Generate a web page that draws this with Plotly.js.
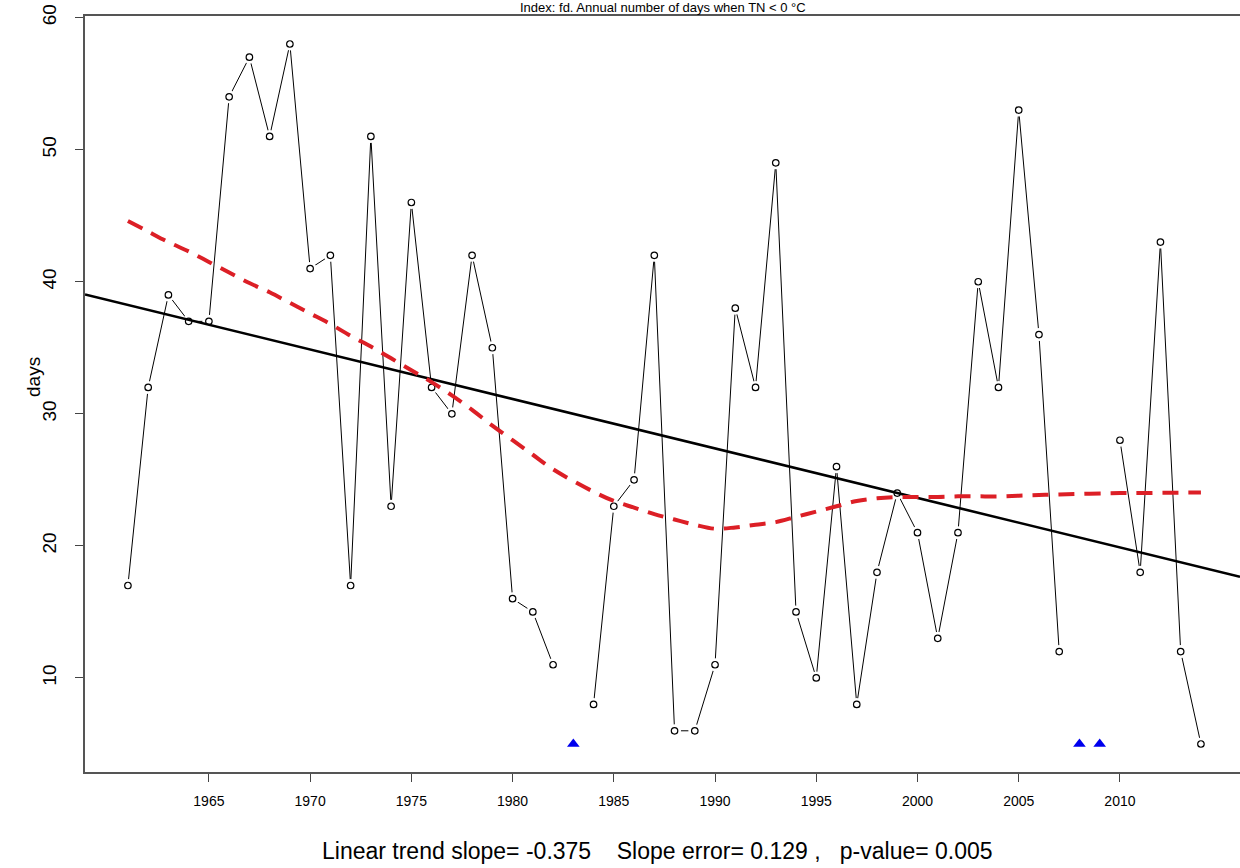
<!DOCTYPE html>
<html>
<head>
<meta charset="utf-8">
<script src="https://cdn.plot.ly/plotly-3.0.1.min.js"></script>
<style>html,body{margin:0;padding:0;background:#fff;}#chart{width:1240px;height:868px;}</style>
</head>
<body>
<div id="chart"></div>
<script>
// Annual number of frost days (TN < 0 °C); null = missing year
const years = [1961,1962,1963,1964,1965,1966,1967,1968,1969,1970,
               1971,1972,1973,1974,1975,1976,1977,1978,1979,1980,
               1981,1982,1983,1984,1985,1986,1987,1988,1989,1990,
               1991,1992,1993,1994,1995,1996,1997,1998,1999,2000,
               2001,2002,2003,2004,2005,2006,2007,2008,2009,2010,
               2011,2012,2013,2014];
const fdDays = [17,32,39,37,37,54,57,51,58,41,
                42,17,51,23,46,32,30,42,35,16,
                15,11,null,8,23,25,42,6,6,11,
                38,32,49,15,10,26,8,18,24,21,
                13,21,40,32,53,36,12,null,null,28,
                18,43,12,5];
// Smoothed (lowess) curve
const smoothYears = [1961,1962,1963,1964,1965,1966,1967,1968,1969,1970,
                     1971,1972,1973,1974,1975,1976,1977,1978,1979,1980,
                     1981,1982,1984,1985,1986,1987,1988,1989,1990,
                     1991,1992,1993,1994,1995,1996,1997,1998,1999,2000,
                     2001,2002,2003,2004,2005,2006,2007,2010,
                     2011,2012,2013,2014];
const smoothDays = [44.6,43.8,43.0,42.3,41.5,40.7,39.9,39.2,38.4,37.6,
                    36.8,35.9,35.1,34.2,33.3,32.4,31.4,30.3,29.1,28.0,
                    26.9,25.8,24.1,23.4,22.9,22.4,22.0,21.6,21.3,
                    21.4,21.6,21.8,22.2,22.6,23.0,23.4,23.6,23.7,23.7,
                    23.7,23.75,23.75,23.75,23.8,23.85,23.9,24.0,
                    24.0,24.02,24.03,24.04];
const xTicks = [1965,1970,1975,1980,1985,1990,1995,2000,2005,2010];
const yTicks = [10,20,30,40,50,60];
const titleText = "Index: fd. Annual number of days when TN < 0 °C";
const yTitle = "days";
const statsText = "Linear trend slope= -0.375    Slope error= 0.129 ,   p-value= 0.005";

const xRange = [1958.88, 2015.93];
const yRange = [2.88, 60.12];

// valid points
const vx = [], vy = [], missX = [];
years.forEach((yr, i) => { if (fdDays[i] === null) missX.push(yr); else { vx.push(yr); vy.push(fdDays[i]); } });
// least squares trend
const n = vx.length;
const mx = vx.reduce((a, b) => a + b, 0) / n;
const my = vy.reduce((a, b) => a + b, 0) / n;
let sxy = 0, sxx = 0;
for (let i = 0; i < n; i++) { sxy += (vx[i] - mx) * (vy[i] - my); sxx += (vx[i] - mx) ** 2; }
const slope = sxy / sxx, icpt = my - slope * mx;
const trendX = xRange.slice();
const trendY = trendX.map(x => icpt + slope * x);
const minVal = Math.min(...vy);

const FONT = "Liberation Sans, Arial, sans-serif";

const traces = [
  { x: years, y: fdDays, mode: "lines", line: { color: "#000", width: 1 }, connectgaps: false, hoverinfo: "skip" },
  { x: vx, y: vy, mode: "markers", marker: { symbol: "circle", size: 13, color: "#fff", line: { width: 0 } }, hoverinfo: "skip" },
  { x: vx, y: vy, mode: "markers", marker: { symbol: "circle-open", size: 6.5, color: "#000", line: { width: 1.2, color: "#000" } } },
  { x: trendX, y: trendY, mode: "lines", line: { color: "#000", width: 2.6 } },
  { x: smoothYears, y: smoothDays, mode: "lines", line: { color: "#dc1f26", width: 4, dash: "16px,10px", shape: "spline" } },
  { x: missX, y: missX.map(() => minVal), mode: "markers", marker: { symbol: "triangle-up", size: 11, color: "#0000ee" } }
];

const layout = {
  width: 1240, height: 868,
  margin: { l: 85, r: 0, t: 16, b: 96 },
  paper_bgcolor: "#fff", plot_bgcolor: "#fff",
  showlegend: false,
  font: { family: FONT, color: "#000" },
  xaxis: {
    range: xRange, tickmode: "array", tickvals: xTicks, ticktext: xTicks.map(String),
    ticks: "outside", ticklen: 8, tickwidth: 1, tickcolor: "#444",
    showline: true, linecolor: "#555", linewidth: 2, mirror: true,
    showgrid: false, zeroline: false,
    tickfont: { family: FONT, size: 14, color: "#000" }, ticklabelstandoff: 7
  },
  yaxis: {
    range: yRange, tickmode: "array", tickvals: yTicks, ticktext: yTicks.map(String),
    ticks: "outside", ticklen: 8, tickwidth: 1, tickcolor: "#444", tickangle: -90,
    showline: true, linecolor: "#555", linewidth: 2, mirror: false,
    showgrid: false, zeroline: false,
    tickfont: { family: FONT, size: 19, color: "#000" }, ticklabelstandoff: 11
  },
  annotations: [
    { text: titleText, xref: "paper", yref: "paper", x: (663 - 85) / 1155, y: 1,
      xanchor: "center", yanchor: "bottom", showarrow: false, borderpad: 0,
      font: { family: FONT, size: 13, color: "#000" } },
    { text: yTitle, xref: "paper", yref: "paper", x: (33 - 85) / 1155, y: (772 - 377) / 756,
      xanchor: "center", yanchor: "middle", textangle: -90, showarrow: false,
      font: { family: FONT, size: 19, color: "#000" } },
    { text: statsText, xref: "paper", yref: "paper", x: (657 - 85) / 1155, y: (772 - 851) / 756,
      xanchor: "center", yanchor: "middle", showarrow: false, font: { family: FONT, size: 23, color: "#000" } }
  ]
};

Plotly.newPlot("chart", traces, layout, { displayModeBar: false, staticPlot: true });
</script>
</body>
</html>
